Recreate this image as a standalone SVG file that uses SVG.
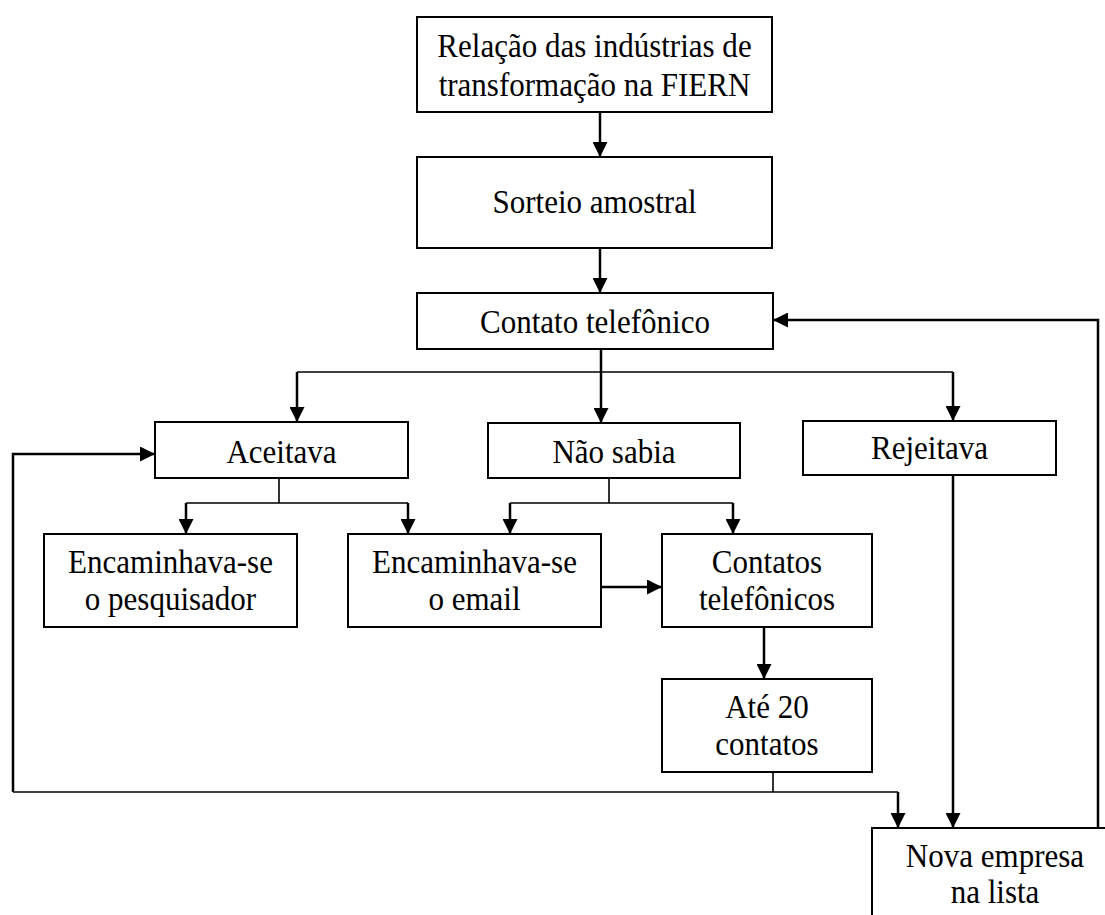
<svg xmlns="http://www.w3.org/2000/svg" width="1105" height="915" viewBox="0 0 1105 915">
  <style>
    .box { fill: #fff; stroke: #000; stroke-width: 2; }
    .lbl { font-family: "Liberation Serif", "Times New Roman", serif; font-size: 33px; fill: #000; text-anchor: middle;
           transform-box: fill-box; transform-origin: center; transform: scaleX(0.94); }
    .arr { fill: none; stroke: #000; stroke-width: 2.5; marker-end: url(#head); }
    .ln { fill: none; stroke: #000; stroke-width: 1.6; }
  </style>
  <defs>
    <marker id="head" viewBox="0 0 10 10" refX="10" refY="5" markerUnits="userSpaceOnUse" markerWidth="16" markerHeight="15" orient="auto">
      <path d="M0,0 L10,5 L0,10 Z" fill="#000"/>
    </marker>
  </defs>

  <rect width="1105" height="915" fill="#fff"/>

  <g id="connectors">
    <path class="arr" d="M600,112 V157"/>
    <path class="arr" d="M600,248 V293"/>
    <path class="arr" d="M601,349 V423"/>
    <path class="ln" d="M297,372 H953"/>
    <path class="arr" d="M297,372 V422"/>
    <path class="arr" d="M953,372 V421"/>
    <path class="ln" d="M279,478 V503 M186,503 H408"/>
    <path class="arr" d="M186,503 V534"/>
    <path class="arr" d="M408,503 V534"/>
    <path class="ln" d="M609,478 V503 M510,503 H733"/>
    <path class="arr" d="M510,503 V534"/>
    <path class="arr" d="M733,503 V534"/>
    <path class="arr" d="M601,587 H662"/>
    <path class="arr" d="M764,627 V679"/>
    <path class="ln" d="M773,772 V792"/>
    <path class="ln" d="M13,792 H898"/>
    <path class="arr" d="M898,792 V828"/>
    <path class="arr" d="M13,792 V454 H155"/>
    <path class="arr" d="M953,475 V828"/>
    <path class="arr" d="M1098,828 V320 H773"/>
  </g>

  <g id="relacao">
    <rect class="box" x="417" y="17" width="355" height="95"/>
    <text class="lbl" x="594.5" y="57">Relação das indústrias de</text>
    <text class="lbl" x="594.5" y="96">transformação na FIERN</text>
  </g>
  <g id="sorteio">
    <rect class="box" x="417" y="157" width="355" height="91"/>
    <text class="lbl" x="594.5" y="213">Sorteio amostral</text>
  </g>
  <g id="contato">
    <rect class="box" x="417" y="293" width="356" height="56"/>
    <text class="lbl" x="595" y="333">Contato telefônico</text>
  </g>
  <g id="aceitava">
    <rect class="box" x="155" y="422" width="253" height="56"/>
    <text class="lbl" x="281.5" y="463">Aceitava</text>
  </g>
  <g id="nao-sabia">
    <rect class="box" x="488" y="423" width="252" height="55"/>
    <text class="lbl" x="614" y="463">Não sabia</text>
  </g>
  <g id="rejeitava">
    <rect class="box" x="803" y="421" width="253" height="54"/>
    <text class="lbl" x="929.5" y="459">Rejeitava</text>
  </g>
  <g id="pesquisador">
    <rect class="box" x="44" y="534" width="253" height="93"/>
    <text class="lbl" x="170.5" y="573">Encaminhava-se</text>
    <text class="lbl" x="170.5" y="610">o pesquisador</text>
  </g>
  <g id="email">
    <rect class="box" x="348" y="534" width="253" height="93"/>
    <text class="lbl" x="474.5" y="573">Encaminhava-se</text>
    <text class="lbl" x="474.5" y="610">o email</text>
  </g>
  <g id="contatos">
    <rect class="box" x="662" y="534" width="210" height="93"/>
    <text class="lbl" x="767" y="573">Contatos</text>
    <text class="lbl" x="767" y="610">telefônicos</text>
  </g>
  <g id="ate20">
    <rect class="box" x="662" y="679" width="210" height="93"/>
    <text class="lbl" x="767" y="718">Até 20</text>
    <text class="lbl" x="767" y="755">contatos</text>
  </g>
  <g id="nova-empresa">
    <rect class="box" x="872" y="828" width="248" height="110"/>
    <text class="lbl" x="995" y="867">Nova empresa</text>
    <text class="lbl" x="995" y="903">na lista</text>
  </g>
</svg>
